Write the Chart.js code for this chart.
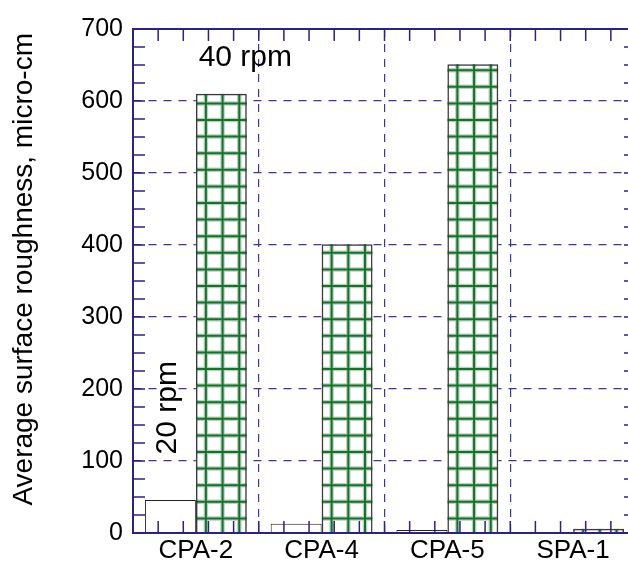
<!DOCTYPE html>
<html>
<head>
<meta charset="utf-8">
<script src="https://cdn.jsdelivr.net/npm/chart.js@4/dist/chart.umd.min.js"></script>
<style>
  html, body { margin: 0; padding: 0; background: #fff; overflow: hidden; }
  #wrap { width: 640px; height: 566px; }
</style>
</head>
<body>
<div id="wrap"><canvas id="myChart" width="640" height="566"></canvas></div>
<script>
// donnees
const categories = ['CPA-2', 'CPA-4', 'CPA-5', 'SPA-1'];
const rpm20 = [46, 13, 4, 1];
const rpm40 = [610, 401, 651, 6];
const yTicks = [0, 100, 200, 300, 400, 500, 600, 700];

const axisColor = '#2c2280';
const gridColor = '#3d3598';
const fontFamily = '"Liberation Sans", Arial, sans-serif';

// fond blanc + quadrillage vert des barres 40 rpm
const hatchPlugin = {
    id: 'hatch',
    beforeDatasetsDraw(chart) {
        const ctx = chart.ctx;
        const meta = chart.getDatasetMeta(1);
        meta.data.forEach(bar => {
            const p = bar.getProps(['x', 'y', 'base', 'width'], true);
            const left = p.x - p.width / 2;
            const right = p.x + p.width / 2;
            ctx.save();
            ctx.fillStyle = '#fff';
            ctx.fillRect(left, p.y, p.width, p.base - p.y);
            ctx.beginPath();
            ctx.rect(left, p.y, p.width, p.base - p.y);
            ctx.clip();
            const lines = [];
            for (let x = left + 10; x < right; x += 16.7) lines.push([x, p.y, x, p.base]);
            for (let y = p.base - 14; y > p.y; y -= 16.6) lines.push([left, y, right, y]);
            [['rgba(40,130,60,0.35)', 4.5], ['#1b6e2e', 2]].forEach(([col, w]) => {
                ctx.strokeStyle = col;
                ctx.lineWidth = w;
                ctx.beginPath();
                lines.forEach(l => { ctx.moveTo(l[0], l[1]); ctx.lineTo(l[2], l[3]); });
                ctx.stroke();
            });
            ctx.restore();
        });
    }
};

// cadre et petites graduations vers l'interieur
const framePlugin = {
    id: 'frame',
    afterDatasetsDraw(chart) {
        const {ctx, chartArea: a, scales: {x, y}} = chart;
        ctx.save();
        ctx.strokeStyle = axisColor;
        ctx.lineWidth = 1.5;
        ctx.beginPath();
        for (let v = 25; v < 700; v += 25) {
            const py = y.getPixelForValue(v);
            ctx.moveTo(a.left, py); ctx.lineTo(a.left + 12, py);
            ctx.moveTo(a.right - 12, py); ctx.lineTo(a.right, py);
        }
        const cw = (a.right - a.left) / categories.length;
        for (let i = 1; i < categories.length * 5; i++) {
            const px = a.left + i * cw / 5;
            ctx.moveTo(px, a.bottom); ctx.lineTo(px, a.bottom - 12);
            ctx.moveTo(px, a.top); ctx.lineTo(px, a.top + 12);
        }
        ctx.stroke();
        ctx.lineWidth = 2;
        ctx.strokeRect(a.left, a.top, a.right - a.left, a.bottom - a.top);
        ctx.restore();
    },
    afterDraw(chart) {
        const {ctx, scales: {y}} = chart;
        const b20 = chart.getDatasetMeta(0).data[0];
        const b40 = chart.getDatasetMeta(1).data[0];
        ctx.save();
        ctx.fillStyle = '#000';
        ctx.font = '30px ' + fontFamily;
        ctx.textAlign = 'center';
        ctx.textBaseline = 'middle';
        ctx.fillText('40 rpm', b40.x + 24, y.getPixelForValue(660));
        ctx.translate(b20.x - 3, y.getPixelForValue(174));
        ctx.rotate(-Math.PI / 2);
        ctx.fillText('20 rpm', 0, 0);
        ctx.restore();
    }
};

const ctx = document.getElementById('myChart').getContext('2d');
const myChart = new Chart(ctx, {
    type: 'bar',
    data: {
        labels: categories,
        datasets: [
            {
                label: '20 rpm',
                data: rpm20,
                backgroundColor: '#fff',
                borderColor: '#222',
                borderWidth: 1,
                categoryPercentage: 0.81,
                barPercentage: 1.0
            },
            {
                label: '40 rpm',
                data: rpm40,
                backgroundColor: 'rgba(0,0,0,0)',
                borderColor: '#3a3a3a',
                borderWidth: 1.5,
                categoryPercentage: 0.81,
                barPercentage: 1.0
            }
        ]
    },
    options: {
        responsive: false,
        animation: false,
        devicePixelRatio: 1,
        layout: { padding: { top: 29, right: 4, left: 0, bottom: 0 } },
        plugins: {
            legend: { display: false },
            tooltip: { enabled: false }
        },
        scales: {
            x: {
                grid: { offset: true, color: gridColor, lineWidth: 1.2, drawTicks: false },
                border: { color: axisColor, width: 1.5, dash: [8, 7] },
                ticks: { color: '#000', padding: 2, font: { size: 26, family: fontFamily } },
                afterFit(scale) { scale.height = 33; }
            },
            y: {
                min: 0,
                max: 700,
                afterBuildTicks(scale) { scale.ticks = yTicks.map(v => ({value: v})); },
                grid: { color: gridColor, lineWidth: 1.2, drawTicks: false },
                border: { color: axisColor, width: 1.5, dash: [8, 7] },
                ticks: { color: '#000', padding: 10, font: { size: 25, family: fontFamily } },
                title: {
                    display: true,
                    // espaces en tete pour remonter le titre comme sur l'original
                    text: '\u00a0\u00a0\u00a0Average surface roughness, micro-cm',
                    color: '#000',
                    padding: { top: 7, bottom: 0 },
                    font: { size: 28, family: fontFamily }
                },
                afterFit(scale) { scale.width = 133; }
            }
        }
    },
    plugins: [hatchPlugin, framePlugin]
});
</script>
</body>
</html>
